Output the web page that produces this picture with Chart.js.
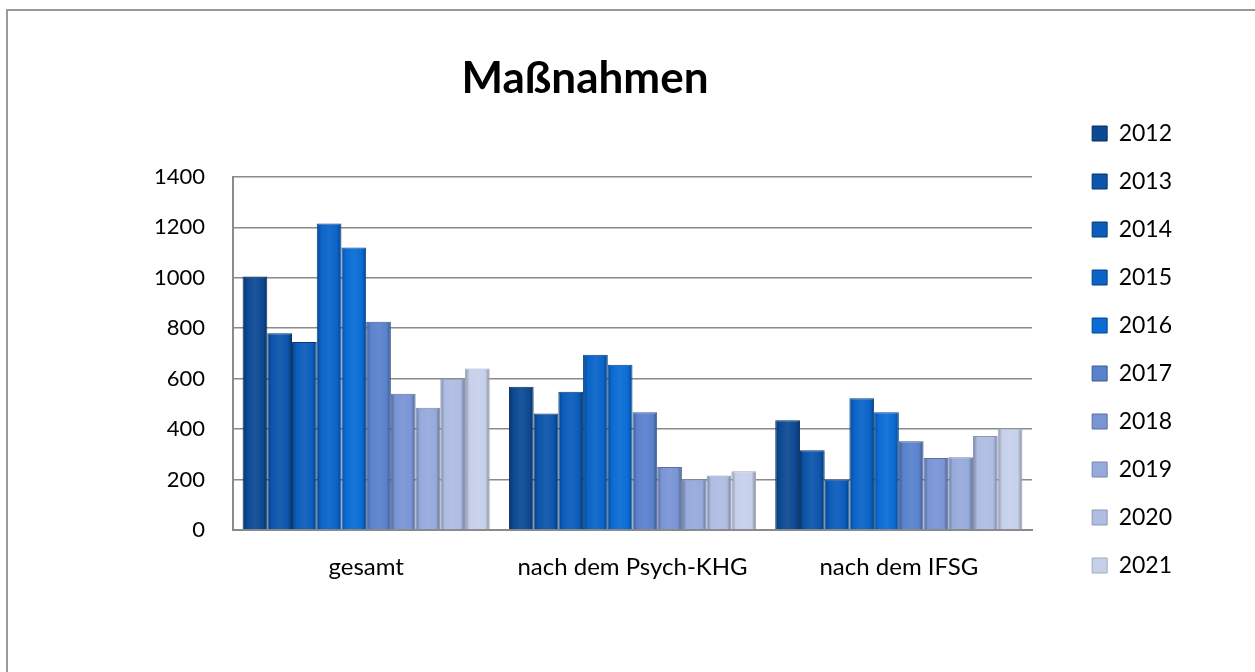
<!DOCTYPE html>
<html>
<head>
<meta charset="utf-8">
<title>Maßnahmen</title>
<script src="https://cdn.jsdelivr.net/npm/chart.js@4/dist/chart.umd.min.js"></script>
<style>
	html, body { margin: 0; padding: 0; background: #fff; overflow: hidden; }
	#frame { position: absolute; left: 6px; top: 9px; width: 1300px; height: 700px; border: 2px solid #9a9a9a; box-sizing: border-box; }
	#wrap { position: absolute; left: -12px; top: 0; width: 1267px; height: 672px; }
</style>
</head>
<body>
<div id="frame"></div>
<div id="wrap"><canvas id="chart" width="1267" height="672"></canvas></div>
<script>
// categories on the x axis
var categories = ["gesamt", "nach dem Psych-KHG", "nach dem IFSG"];
var years = ["2012", "2013", "2014", "2015", "2016", "2017", "2018", "2019", "2020", "2021"];

// values per category, one entry per year (2012..2021)
var gesamt = [1005, 780, 745, 1215, 1120, 825, 540, 485, 600, 640];
var psychKHG = [568, 462, 548, 695, 655, 467, 250, 200, 216, 233];
var ifsg = [435, 316, 200, 522, 467, 352, 285, 288, 373, 402];

var yTicks = [0, 200, 400, 600, 800, 1000, 1200, 1400];

// bar colours, dark navy -> light lavender
var fills = ["#0d4a94", "#0c55ab", "#0b5dbc", "#0a64c8", "#0a6cd5", "#5a82cc", "#7a95d5", "#96aadc", "#afbde3", "#c7d0ea"];
var edges = ["#062c5c", "#06346c", "#073a78", "#083f82", "#08448a", "#3a5a94", "#5a6f9c", "#7584a8", "#8b97b0", "#a2abbd"];

function hexToRgb(h) {
	return [parseInt(h.substr(1, 2), 16), parseInt(h.substr(3, 2), 16), parseInt(h.substr(5, 2), 16)];
}

// blend colour a towards colour b by t (0..1)
function mix(a, b, t) {
	var x = hexToRgb(a), y = hexToRgb(b);
	var r = x.map(function (v, k) { return Math.round(v + (y[k] - v) * t); });
	return "rgb(" + r.join(",") + ")";
}

var datasets = years.map(function (y, i) {
	return {
		label: y,
		data: [gesamt[i], psychKHG[i], ifsg[i]],
		backgroundColor: fills[i],
		borderColor: edges[i],
		borderWidth: 1,
		categoryPercentage: 0.928,
		barPercentage: 1.0,
	};
});

// gives every bar a soft horizontal shading, darker at the edges
var bevelPlugin = {
	id: "bevel",
	beforeDatasetsDraw: function (chart) {
		var ctx = chart.ctx;
		chart.data.datasets.forEach(function (ds, i) {
			var meta = chart.getDatasetMeta(i);
			meta.data.forEach(function (bar) {
				var x0 = bar.x - bar.width / 2, x1 = bar.x + bar.width / 2;
				var g = ctx.createLinearGradient(x0, 0, x1, 0);
				g.addColorStop(0, mix(fills[i], "#000000", 0.3));
				g.addColorStop(0.18, fills[i]);
				g.addColorStop(0.5, mix(fills[i], "#ffffff", 0.06));
				g.addColorStop(0.82, fills[i]);
				g.addColorStop(1, mix(fills[i], "#000000", 0.35));
				bar.options = Object.assign({}, bar.options, { backgroundColor: g });
			});
		});
	},
};

var FONT = "Lato";

new Chart(document.getElementById("chart"), {
	type: "bar",
	data: { labels: categories, datasets: datasets },
	plugins: [bevelPlugin],
	options: {
		responsive: false,
		animation: false,
		layout: { padding: { top: 27, right: 73, left: 0, bottom: 0 } },
		plugins: {
			title: {
				display: true,
				text: "Maßnahmen",
				color: "#000",
				font: { family: FONT, size: 44, weight: "bold", lineHeight: 1.2 },
				padding: { top: 25, bottom: 72 },
			},
			legend: {
				position: "right",
				labels: {
					color: "#000",
					font: { family: FONT, size: 23 },
					boxWidth: 15,
					boxHeight: 15,
					padding: 25,
				},
			},
			tooltip: { enabled: false },
		},
		scales: {
			x: {
				grid: { display: false },
				border: { display: true, color: "#8a8a8a", width: 2 },
				ticks: { color: "#000", font: { family: FONT, size: 24 }, padding: 15 },
				afterFit: function (s) { s.height = 142; },
			},
			y: {
				min: 0,
				max: 1400,
				afterBuildTicks: function (s) {
					s.ticks = yTicks.map(function (v) { return { value: v }; });
				},
				grid: { color: "#8a8a8a", lineWidth: 1.5, drawTicks: false },
				border: { display: true, color: "#8a8a8a", width: 2 },
				ticks: {
					color: "#000",
					font: { family: FONT, size: 22 },
					padding: 28,
					callback: function (v) { return String(v); },
				},
				afterFit: function (s) { s.width = 245; },
			},
			// empty spacer between plot and legend
			gap: {
				type: "linear",
				position: "right",
				display: true,
				grid: { display: false },
				border: { display: false },
				ticks: { display: false },
				afterFit: function (s) {
					s.width = Math.max(0, s.chart.width - 73 - s.chart.legend.width - 1044);
				},
			},
		},
	},
});
</script>
</body>
</html>
